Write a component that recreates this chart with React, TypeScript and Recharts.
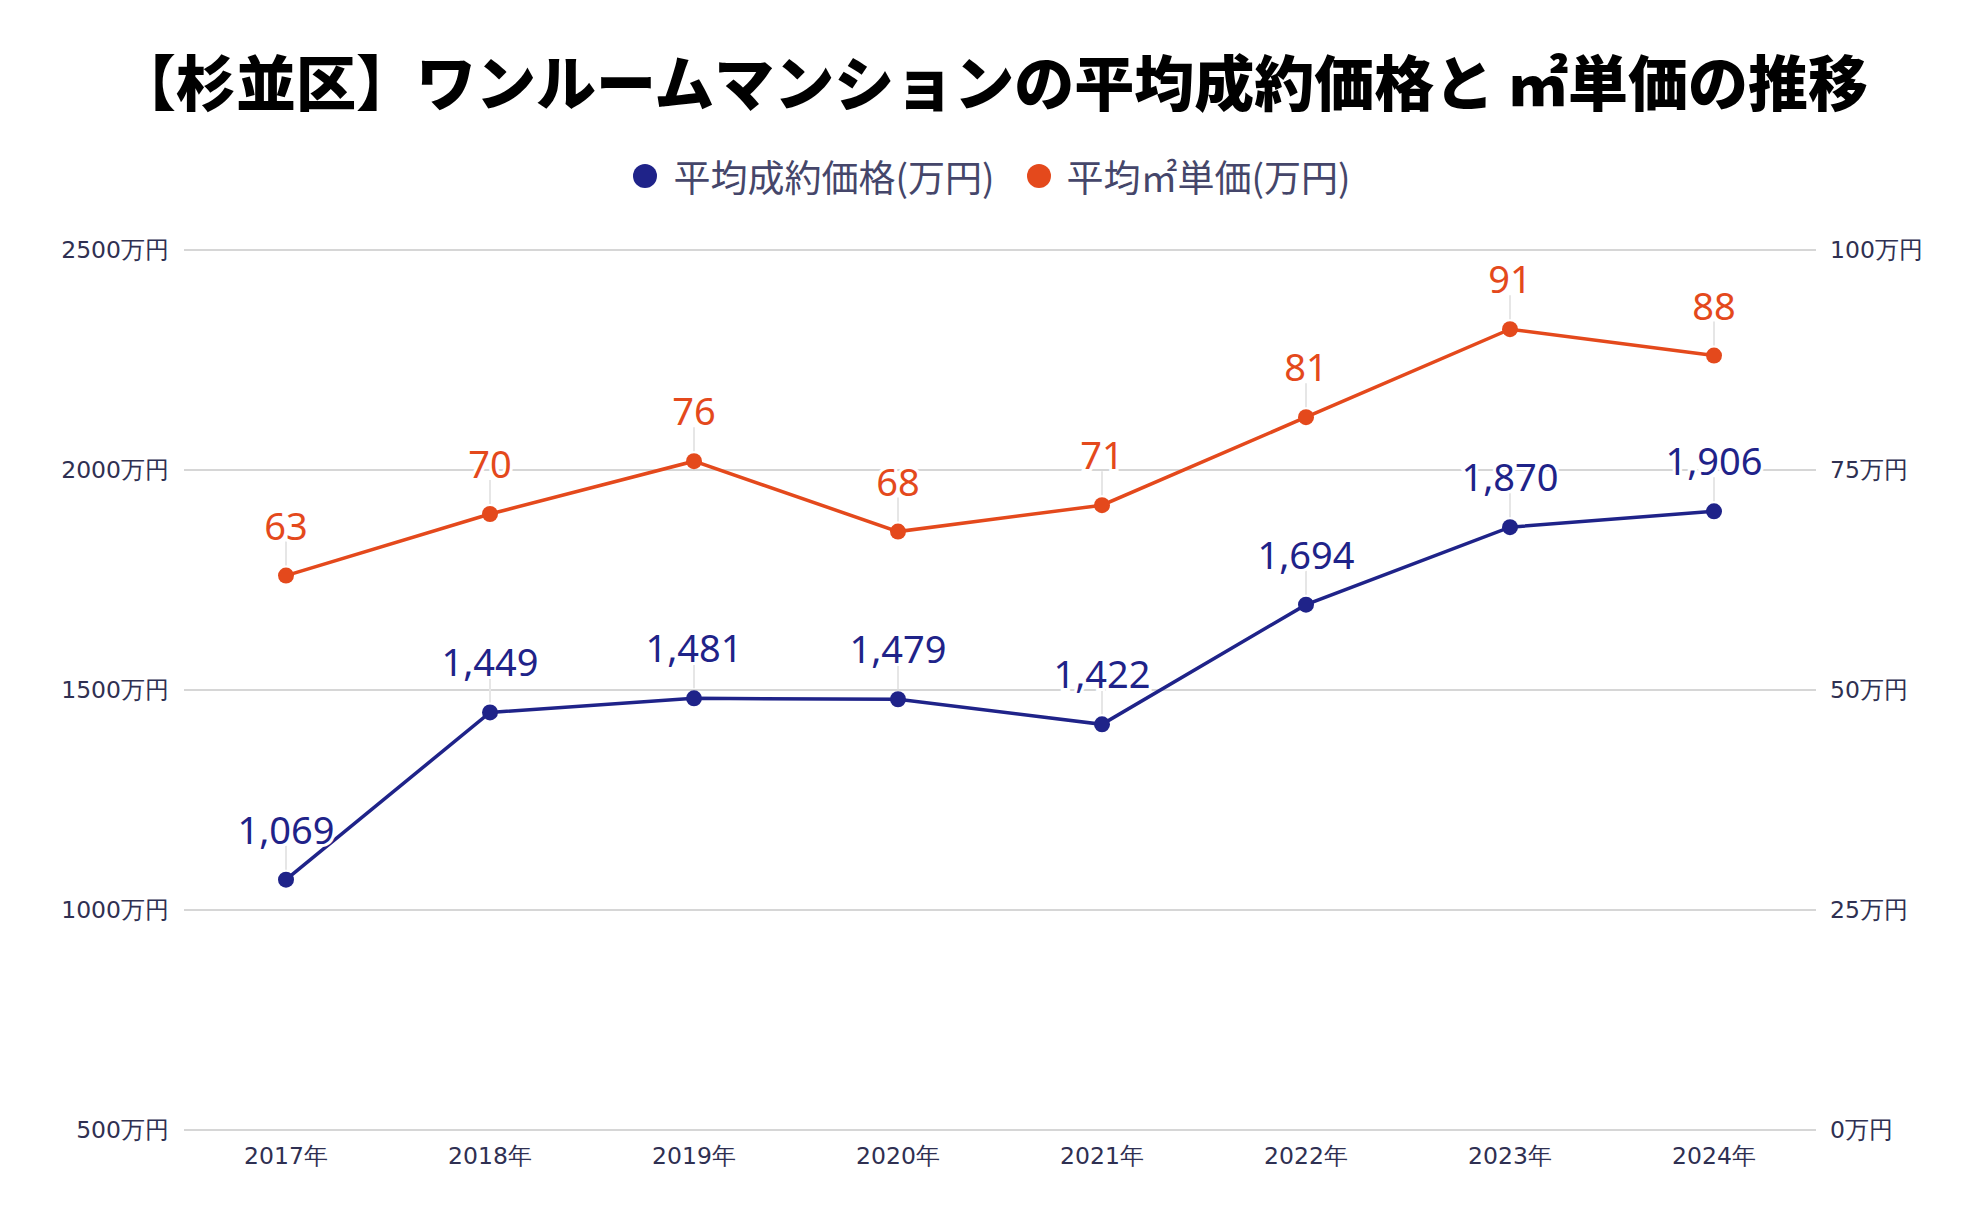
import React from "react";
import { CartesianGrid, LabelList, Line, LineChart, XAxis, YAxis } from "recharts";

const years = ["2017年", "2018年", "2019年", "2020年", "2021年", "2022年", "2023年", "2024年"];
const avgPrice = [1069, 1449, 1481, 1479, 1422, 1694, 1870, 1906];
const unitPrice = [63, 70, 76, 68, 71, 81, 91, 88];
const leftTicks = [500, 1000, 1500, 2000, 2500];
const rightTicks = [0, 25, 50, 75, 100];

const NAVY = "#1f2389";
const ORANGE = "#e4491c";
const TICK = "#2f3052";
const CJK = '"Noto Sans CJK JP", "Noto Sans", sans-serif';

const data = years.map((year, i) => ({ year, price: avgPrice[i], unit: unitPrice[i] }));

function makeLabel(color: string) {
  return (props: any) => {
    const { x, y, value } = props;
    return (
      <g>
        <line x1={x} x2={x} y1={y - 10} y2={y - 34} stroke="#e6e6e6" strokeWidth={2} />
        <text
          x={x}
          y={y - 51}
          textAnchor="middle"
          dominantBaseline="central"
          fill={color}
          fontSize={38}
          fontFamily='"Noto Sans", sans-serif'
          stroke="#fff"
          strokeWidth={6}
          paintOrder="stroke"
        >
          {Number(value).toLocaleString("en-US")}
        </text>
      </g>
    );
  };
}

const tickStyle = { fill: TICK, fontSize: 23.5, fontFamily: '"DejaVu Sans", sans-serif' };

export default function App() {
  return (
    <div style={{ position: "absolute", left: 0, top: 0, width: 1984, height: 1228, background: "#fff" }}>
      <div
        style={{
          position: "absolute",
          top: 42,
          left: 0,
          width: 1984,
          textAlign: "center",
          fontFamily: CJK,
          fontWeight: 900,
          fontSize: 60,
          lineHeight: "76px",
          color: "#000",
        }}
      >
        【杉並区】ワンルームマンションの平均成約価格と ㎡単価の推移
      </div>
      <div
        style={{
          position: "absolute",
          top: 153,
          left: 0,
          width: 1984,
          display: "flex",
          justifyContent: "center",
          alignItems: "center",
          fontFamily: CJK,
          fontSize: 37,
          lineHeight: "46px",
          color: "#45466a",
        }}
      >
        {[
          { name: "平均成約価格(万円)", color: NAVY },
          { name: "平均㎡単価(万円)", color: ORANGE },
        ].map((item) => (
          <div key={item.name} style={{ display: "flex", alignItems: "center", margin: "0 16px" }}>
            <span
              style={{
                width: 24,
                height: 24,
                borderRadius: "50%",
                background: item.color,
                display: "inline-block",
                marginRight: 16,
              }}
            />
            <span>{item.name}</span>
          </div>
        ))}
      </div>
      <div style={{ position: "absolute", left: 0, top: 0 }}>
        <LineChart width={1984} height={1228} data={data} margin={{ top: 250, right: 0, bottom: 48, left: 0 }}>
          <CartesianGrid yAxisId="left" vertical={false} stroke="#c8c8c8" strokeWidth={1.5} />
          <XAxis
            dataKey="year"
            axisLine={false}
            tickLine={false}
            height={50}
            padding={{ left: 102, right: 102 }}
            tick={tickStyle}
            tickMargin={11}
          />
          <YAxis
            yAxisId="left"
            width={184}
            domain={[500, 2500]}
            ticks={leftTicks}
            axisLine={false}
            tickLine={false}
            tick={tickStyle}
            tickMargin={9}
            tickFormatter={(v) => `${v}万円`}
          />
          <YAxis
            yAxisId="right"
            orientation="right"
            width={168}
            domain={[0, 100]}
            ticks={rightTicks}
            axisLine={false}
            tickLine={false}
            tick={tickStyle}
            tickMargin={8}
            tickFormatter={(v) => `${v}万円`}
          />
          <Line
            yAxisId="right"
            dataKey="unit"
            stroke={ORANGE}
            strokeWidth={3.5}
            dot={{ r: 8, fill: ORANGE, stroke: ORANGE, strokeWidth: 0 }}
            isAnimationActive={false}
          >
            <LabelList dataKey="unit" content={makeLabel(ORANGE)} />
          </Line>
          <Line
            yAxisId="left"
            dataKey="price"
            stroke={NAVY}
            strokeWidth={3.5}
            dot={{ r: 8, fill: NAVY, stroke: NAVY, strokeWidth: 0 }}
            isAnimationActive={false}
          >
            <LabelList dataKey="price" content={makeLabel(NAVY)} />
          </Line>
        </LineChart>
      </div>
    </div>
  );
}
